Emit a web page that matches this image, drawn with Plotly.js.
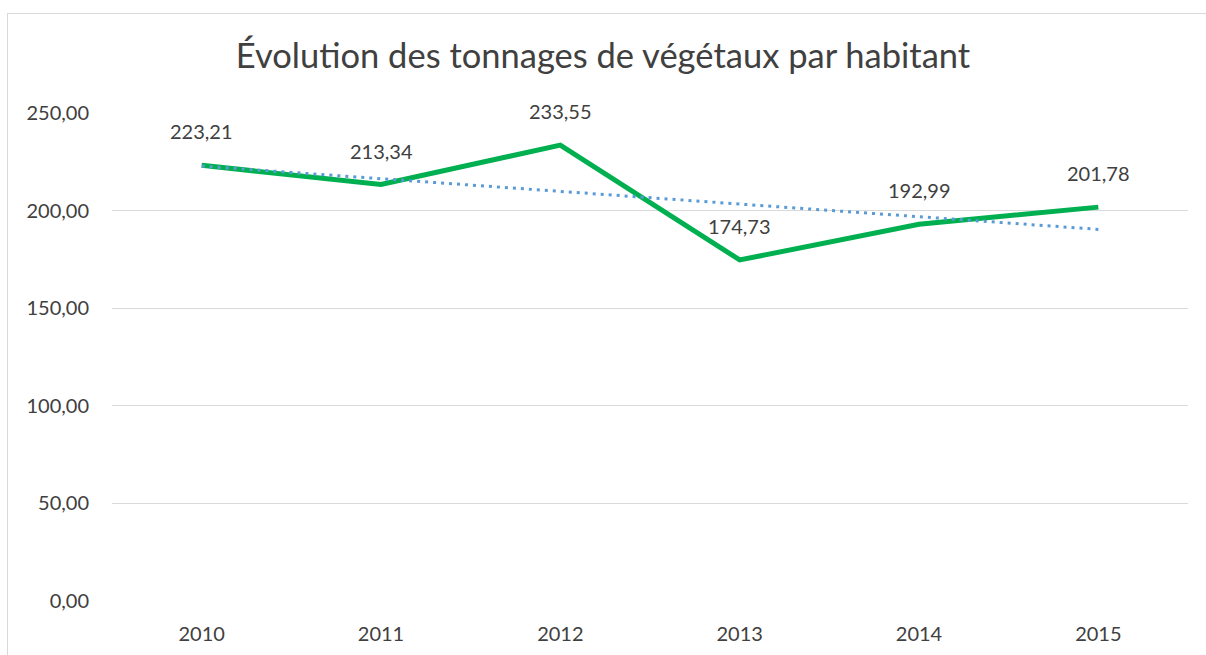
<!DOCTYPE html>
<html><head><meta charset="utf-8">
<script src="https://cdn.plot.ly/plotly-3.0.1.min.js"></script>
<style>
html,body{margin:0;padding:0;background:#fff;overflow:hidden;}
#frame{position:absolute;left:7px;top:13px;width:1250px;height:700px;border:1px solid #d9d9d9;box-sizing:border-box;}
#chart{position:absolute;left:0;top:0;width:1206px;height:655px;}
</style>
</head><body>
<div id="frame"></div>
<div id="chart"></div>
<script>
const years = ['2010','2011','2012','2013','2014','2015'];
const values = [223.21, 213.34, 233.55, 174.73, 192.99, 201.78];
const labels = ['223,21','213,34','233,55','174,73','192,99','201,78'];
const trendYears = ['2010','2015'];
const trendValues = [222.82, 190.38];
const yTicks = [0, 50, 100, 150, 200, 250];
const yTickLabels = ['0,00','50,00','100,00','150,00','200,00','250,00'];

const font = "Lato, 'Open Sans', sans-serif";
const traces = [
  {x: years, y: values, type: 'scatter', mode: 'lines',
   line: {color: '#00b050', width: 5}, hoverinfo: 'skip'},
  {x: trendYears, y: trendValues, type: 'scatter', mode: 'lines',
   line: {color: '#5b9bd5', width: 3, dash: '3px,5px'}, hoverinfo: 'skip'}
];
// annotation x given as category index (numeric-looking category names would be read as indices)
const annotations = years.map((yr, i) => ({
  x: years.indexOf(yr), y: values[i], xref: 'x', yref: 'y', text: labels[i],
  showarrow: false, yshift: 34, font: {family: font, size: 20, color: '#404040'}
}));
const layout = {
  width: 1206, height: 655,
  paper_bgcolor: 'rgba(0,0,0,0)', plot_bgcolor: 'rgba(0,0,0,0)',
  margin: {l: 112, r: 18, t: 113, b: 54},
  showlegend: false,
  title: {text: 'Évolution des tonnages de végétaux par habitant',
          font: {family: font, size: 34.5, color: '#404040'},
          x: 0.5, xanchor: 'center', y: 0.915, yanchor: 'middle', yref: 'container'},
  xaxis: {type: 'category', categoryorder: 'array', categoryarray: years,
          range: [-0.5, 5.5], showgrid: false, zeroline: false, showline: false,
          ticks: 'outside', ticklen: 15, tickcolor: 'rgba(0,0,0,0)',
          tickfont: {family: font, size: 20, color: '#404040'}, fixedrange: true},
  yaxis: {range: [0, 250], tickvals: yTicks, ticktext: yTickLabels,
          gridcolor: '#d9d9d9', gridwidth: 1, zeroline: false, showline: false,
          ticks: 'outside', ticklen: 18, tickcolor: 'rgba(0,0,0,0)',
          tickfont: {family: font, size: 20, color: '#404040'}, fixedrange: true},
  annotations: annotations
};
Plotly.newPlot('chart', traces, layout, {displayModeBar: false, staticPlot: true});
</script>
</body></html>
